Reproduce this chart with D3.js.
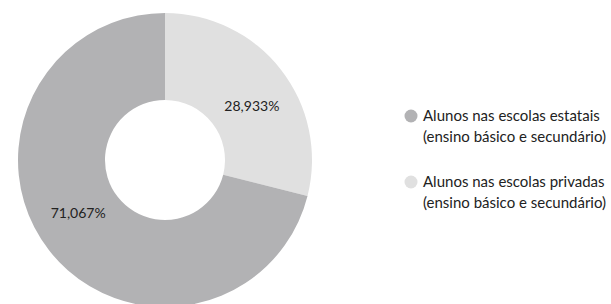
<!DOCTYPE html>
<html>
<head>
<meta charset="utf-8">
<script src="https://d3js.org/d3.v7.min.js"></script>
<style>
  body { margin: 0; background: #fff; }
  svg { font-family: Lato, "Open Sans", sans-serif; }
</style>
</head>
<body>
<svg id="chart"></svg>
<script>
// data
const categories = [
  "Alunos nas escolas privadas (ensino básico e secundário)",
  "Alunos nas escolas estatais (ensino básico e secundário)"
];
const values = [28.933, 71.067];
const labels = ["28,933%", "71,067%"];
const colors = ["#e0e0e0", "#b2b2b4"];
// legend order shown in the picture
const legendOrder = [1, 0];
const legendLines = [
  ["Alunos nas escolas privadas", "(ensino básico e secundário)"],
  ["Alunos nas escolas estatais", "(ensino básico e secundário)"]
];

const width = 611, height = 304;
const cx = 165, cy = 160, outerR = 147, innerR = 60;

const svg = d3.select("#chart")
  .attr("width", width)
  .attr("height", height);

const pie = d3.pie().sort(null).value(d => d);
const arc = d3.arc().innerRadius(innerR).outerRadius(outerR);
const labelArc = d3.arc().innerRadius(102).outerRadius(102);

const g = svg.append("g").attr("transform", `translate(${cx},${cy})`);

const arcs = pie(values);

g.selectAll("path.slice")
  .data(arcs)
  .enter()
  .append("path")
  .attr("class", "slice")
  .attr("d", arc)
  .attr("fill", (d, i) => colors[i]);

// labels sit a little clockwise of the slice middle
g.selectAll("text.lbl")
  .data(arcs)
  .enter()
  .append("text")
  .attr("class", "lbl")
  .attr("transform", d => `translate(${labelArc.centroid({startAngle: d.startAngle + 0.11, endAngle: d.endAngle + 0.11})})`)
  .attr("text-anchor", "middle")
  .attr("dy", "0.35em")
  .attr("font-size", 14)
  .attr("fill", "#222")
  .text((d, i) => labels[i]);

// legend
const legend = svg.append("g").attr("transform", "translate(411,116)");
const items = legend.selectAll("g.item")
  .data(legendOrder)
  .enter()
  .append("g")
  .attr("class", "item")
  .attr("transform", (d, i) => `translate(0,${i * 66})`);

items.append("circle")
  .attr("r", 6.5)
  .attr("fill", d => colors[d]);

items.append("text")
  .attr("font-size", 15)
  .attr("fill", "#222")
  .selectAll("tspan")
  .data(d => legendLines[d])
  .enter()
  .append("tspan")
  .attr("x", 12)
  .attr("y", (d, i) => 5 + i * 21)
  .text(d => d);
</script>
</body>
</html>
